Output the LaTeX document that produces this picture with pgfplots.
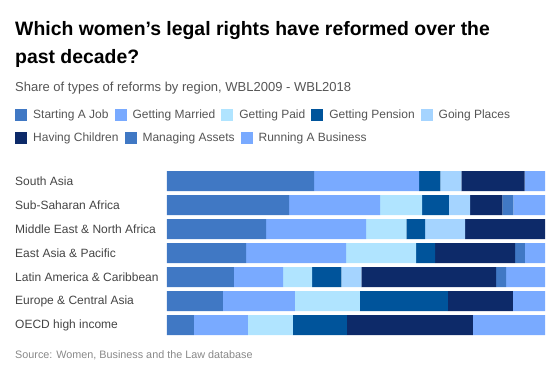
\documentclass[border=0pt]{standalone}
\usepackage{pgfplots}
\pgfplotsset{compat=1.18}
\usepackage{fontspec}
\setmainfont{Liberation Sans}
\definecolor{cJob}{HTML}{4078C4}
\definecolor{cMar}{HTML}{79AAFF}
\definecolor{cPaid}{HTML}{B0E4FF}
\definecolor{cPen}{HTML}{00549B}
\definecolor{cPla}{HTML}{A5D4FF}
\definecolor{cChi}{HTML}{0D2A69}
\definecolor{cAss}{HTML}{4078C4}
\definecolor{cBus}{HTML}{79AAFF}
\definecolor{txt}{HTML}{444444}
\definecolor{sub}{HTML}{555555}
\definecolor{src}{HTML}{888888}
\pgfplotstableread{
y job mar paid pen pla chi ass bus
1 38.9 27.8 0    5.6  5.6  16.7 0   5.4
2 32.3 24.1 11.1 7.1  5.6  8.5  2.9 8.4
3 26.2 26.5 10.6 5.0  10.6 21.1 0   0
4 20.9 26.5 18.5 5.0  0    21.2 2.6 5.3
5 17.7 13.0 7.7  7.7  5.3  35.7 2.6 10.3
6 14.8 19.0 17.2 23.3 0    17.2 0   8.5
7 7.1  14.3 11.9 14.3 0    33.3 0   19.1
}\data
\pgfplotsset{
  mylegend/.style={
    legend columns=-1,
    legend cell align=left,
    legend style={anchor=west, draw=none, fill=none, inner sep=0pt,
      nodes={inner sep=0pt},
      font=\fontsize{12}{14}\selectfont, text=sub,
      /tikz/every odd column/.append style={column sep=6pt},
      /tikz/every even column/.append style={column sep=6pt}},
    legend image code/.code={\fill[##1] (0pt,-6pt) rectangle (12pt,6pt);},
  },
  mygeom/.style={at={(167pt,39pt)}, anchor=south west, width=378pt, height=168pt, scale only axis}
}
\begin{document}
\begin{tikzpicture}[x=1pt,y=1pt]
\useasboundingbox (0,0) rectangle (549,376);
\node[anchor=base west, inner sep=0, font=\bfseries\fontsize{19.4}{22}\selectfont] at (15,341) {Which women’s legal rights have reformed over the};
\node[anchor=base west, inner sep=0, font=\bfseries\fontsize{19.4}{22}\selectfont] at (15,313) {past decade?};
\node[anchor=base west, inner sep=0, text=sub, font=\fontsize{13}{15}\selectfont] at (15,285) {Share of types of reforms by region, WBL2009 - WBL2018};
\node[anchor=base west, inner sep=0, text=src, font=\fontsize{10.8}{12}\selectfont] at (15,18) {Source: Women, Business and the Law database};
\begin{axis}[mygeom,
  xbar stacked, bar width=20pt, xmin=0, xmax=100, ymin=0.5, ymax=7.5, y dir=reverse,
  axis line style={draw=none}, xtick=\empty, ytick={1,...,7}, major tick length=0pt,
  yticklabels={South Asia, Sub-Saharan Africa, Middle East \& North Africa, East Asia \& Pacific, Latin America \& Caribbean, Europe \& Central Asia, OECD high income},
  yticklabel style={anchor=west, inner sep=0pt, xshift=-152pt, text=txt, font=\fontsize{12}{14}\selectfont},
  mylegend,
  legend style={at={(-0.4021,1.3214)}},
  every axis plot/.append style={draw=none}
]
\addplot[fill=cJob] table[x=job,y=y]{\data};
\addplot[fill=cMar] table[x=mar,y=y]{\data};
\addplot[fill=cPaid] table[x=paid,y=y]{\data};
\addplot[fill=cPen] table[x=pen,y=y]{\data};
\addplot[fill=cPla] table[x=pla,y=y]{\data};
\addplot[fill=cChi] table[x=chi,y=y]{\data};
\addplot[fill=cAss] table[x=ass,y=y]{\data};
\addplot[fill=cBus] table[x=bus,y=y]{\data};
\legend{Starting A Job, Getting Married, Getting Paid, Getting Pension, Going Places}
\end{axis}
\begin{axis}[mygeom, hide axis, xmin=0, xmax=1, ymin=0, ymax=1,
  mylegend,
  legend style={at={(-0.4021,1.1845)}}]
\addlegendimage{fill=cChi, draw=none}
\addlegendentry{Having Children}
\addlegendimage{fill=cAss, draw=none}
\addlegendentry{Managing Assets}
\addlegendimage{fill=cBus, draw=none}
\addlegendentry{Running A Business}
\end{axis}
\end{tikzpicture}
\end{document}
